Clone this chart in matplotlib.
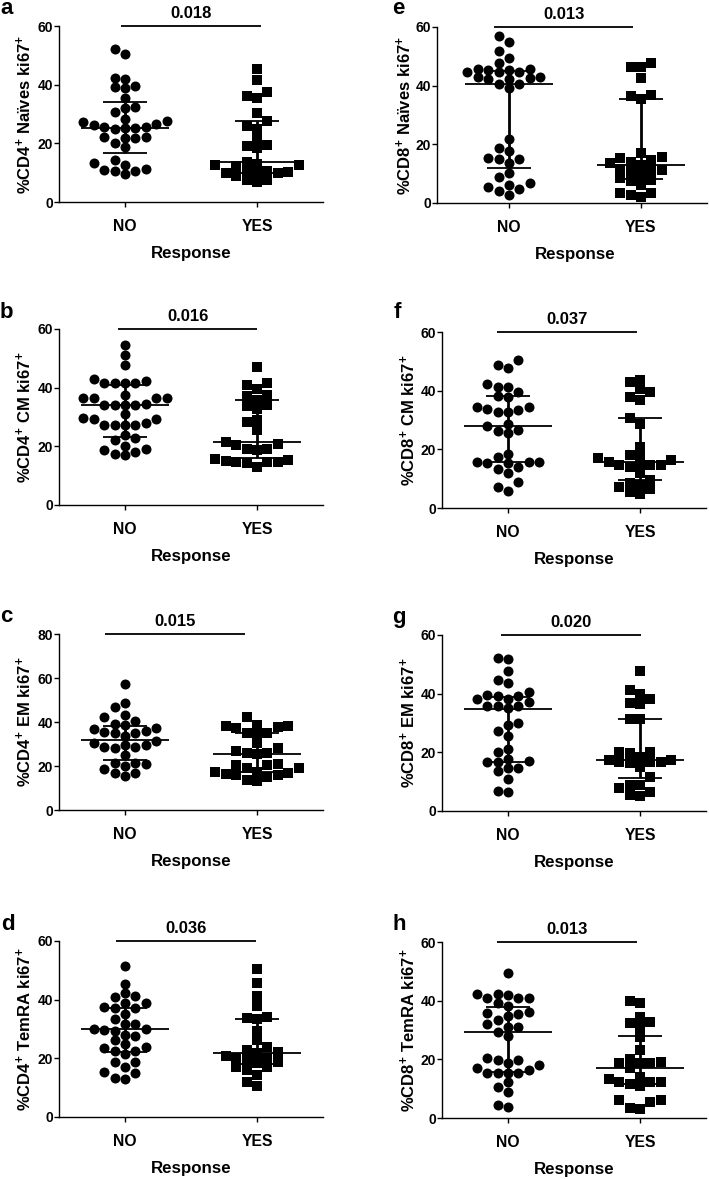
import numpy as np
import matplotlib
matplotlib.use('Agg')
import matplotlib.pyplot as plt

plt.rcParams['font.family'] = ['Liberation Sans', 'DejaVu Sans']
plt.rcParams['font.weight'] = 'bold'
plt.rcParams['mathtext.fontset'] = 'custom'
plt.rcParams['mathtext.rm'] = 'Liberation Sans:bold'
plt.rcParams['mathtext.bf'] = 'Liberation Sans:bold'
plt.rcParams['mathtext.it'] = 'Liberation Sans:bold'

# ---------------- data ----------------
categories = ['NO', 'YES']
panel_letters = ['a', 'b', 'c', 'd', 'e', 'f', 'g', 'h']
ylabels = [r'%CD4$^{+}$ Naïves ki67$^{+}$', r'%CD4$^{+}$ CM ki67$^{+}$',
           r'%CD4$^{+}$ EM ki67$^{+}$', r'%CD4$^{+}$ TemRA ki67$^{+}$',
           r'%CD8$^{+}$ Naïves ki67$^{+}$', r'%CD8$^{+}$ CM ki67$^{+}$',
           r'%CD8$^{+}$ EM ki67$^{+}$', r'%CD8$^{+}$ TemRA ki67$^{+}$']
pvalues = ['0.018', '0.016', '0.015', '0.036', '0.013', '0.037', '0.020', '0.013']
ymax_vals = [60, 60, 80, 60, 60, 60, 60, 60]

a_no = [52.0, 50.3, 41.8, 42.2, 39.1, 39.7, 38.8, 35.6, 32.5, 32.2, 30.8, 28.2, 26.1, 25.1,
        24.8, 25.1, 25.7, 25.6, 26.5, 27.4, 27.6, 22.3, 21.7, 22.3, 21.9, 18.9, 20.0, 14.3,
        13.2, 12.7, 11.1, 10.5, 9.7, 10.5, 10.9]
a_yes = [45.3, 41.6, 37.4, 36.1, 35.3, 30.2, 25.9, 27.6, 24.9, 21.9, 19.4, 19.2, 18.5, 13.8,
         12.6, 12.4, 12.6, 13.0, 10.1, 10.0, 9.8, 10.7, 10.7, 9.0, 9.8, 7.5, 6.8, 7.5]
b_no = [54.4, 51.0, 47.8, 43.0, 41.6, 41.6, 41.6, 41.6, 42.2, 37.6, 36.5, 36.5, 36.5, 36.5,
        34.4, 34.2, 34.2, 34.2, 34.2, 31.1, 29.7, 29.3, 29.3, 27.4, 27.4, 27.4, 27.4, 28.0,
        22.8, 22.3, 23.8, 19.1, 18.0, 17.2, 17.5, 18.6, 20.2]
b_yes = [47.0, 41.6, 41.0, 39.7, 35.9, 37.3, 37.6, 33.9, 32.7, 34.0, 29.1, 28.2, 25.7, 21.4,
         20.6, 19.1, 18.9, 19.1, 20.9, 15.7, 14.7, 14.3, 15.5, 14.5, 14.5, 15.0, 12.8]
c_no = [57.3, 48.8, 46.7, 43.3, 42.4, 40.5, 38.6, 38.9, 36.8, 35.2, 33.6, 34.8, 35.3, 36.1,
        37.1, 31.4, 29.5, 29.5, 28.0, 28.8, 28.8, 30.3, 25.0, 20.2, 21.2, 21.2, 18.6, 20.8,
        17.0, 15.6, 17.0]
c_yes = [42.4, 38.6, 38.3, 37.1, 37.9, 38.3, 34.8, 34.8, 34.5, 30.3, 28.0, 26.1, 25.5, 26.1,
         27.0, 20.5, 18.9, 18.9, 20.5, 20.8, 17.1, 15.9, 15.2, 17.4, 16.4, 15.9, 16.7, 13.2, 13.6]
d_no = [51.6, 45.3, 42.2, 40.8, 41.3, 39.0, 37.6, 37.0, 37.0, 39.0, 33.3, 31.7, 31.7, 35.0,
        29.9, 29.4, 27.6, 26.3, 28.0, 29.7, 29.9, 24.0, 23.4, 22.6, 24.9, 21.5, 22.6, 18.9,
        17.2, 18.9, 15.1, 15.2, 13.0, 13.2]
d_yes = [50.3, 45.8, 41.3, 37.8, 33.6, 33.3, 34.0, 29.4, 26.3, 20.9, 24.0, 22.3, 21.9, 22.8,
         20.0, 19.4, 16.9, 16.0, 18.3, 16.9, 18.9, 20.2, 14.3, 10.7, 11.8]
e_no = [56.8, 54.9, 51.9, 49.6, 47.7, 45.8, 45.3, 44.7, 44.7, 44.7, 45.3, 45.6, 42.6, 42.2,
        42.8, 42.8, 42.2, 40.5, 39.2, 40.5, 21.7, 18.9, 17.8, 14.9, 15.2, 15.0, 13.5, 10.3,
        9.0, 6.1, 6.7, 5.6, 4.7, 4.1, 2.7]
e_yes = [47.7, 46.4, 46.4, 42.6, 36.4, 36.7, 35.4, 17.2, 15.2, 14.1, 13.5, 14.6, 15.8, 12.9,
         11.2, 10.7, 11.2, 11.6, 9.5, 8.4, 7.6, 7.8, 6.1, 3.5, 3.5, 1.9, 2.7]
f_no = [48.8, 47.7, 50.6, 41.1, 41.4, 42.2, 38.3, 37.8, 39.7, 34.6, 33.7, 32.6, 32.6, 33.5,
        34.6, 27.8, 26.1, 25.5, 26.6, 28.7, 18.3, 15.6, 15.8, 15.6, 17.5, 15.3, 13.3, 11.8,
        14.1, 8.7, 7.1, 5.8, 15.5]
f_yes = [43.7, 42.9, 40.6, 39.7, 37.8, 36.9, 30.6, 28.7, 20.9, 18.1, 17.9, 17.0, 16.2, 14.9,
         14.7, 14.1, 14.7, 14.7, 15.6, 11.8, 7.9, 9.6, 8.4, 6.5, 4.8, 5.4, 7.1]
g_no = [51.7, 52.0, 47.7, 44.7, 43.5, 40.7, 38.1, 37.3, 39.2, 39.2, 39.5, 35.8, 35.0, 35.8,
        35.8, 38.1, 29.3, 30.1, 25.6, 27.3, 21.0, 20.2, 17.7, 16.8, 16.8, 17.0, 13.6, 14.5,
        14.5, 10.9, 6.4, 6.9]
g_yes = [47.8, 39.9, 41.3, 36.9, 36.5, 38.2, 31.3, 31.3, 20.2, 19.7, 20.2, 18.5, 16.8, 15.1,
         17.4, 16.8, 16.3, 16.8, 17.4, 11.7, 8.9, 6.4, 5.2, 5.5, 7.7, 8.9]
h_no = [49.5, 42.2, 41.9, 40.8, 40.8, 40.8, 42.2, 39.1, 38.1, 35.3, 36.2, 35.9, 34.8, 33.4,
        32.0, 31.1, 31.1, 27.9, 29.4, 20.5, 19.9, 19.7, 18.6, 18.0, 16.3, 15.4, 15.4, 15.4,
        15.4, 16.9, 10.6, 12.3, 8.9, 3.8, 4.3]
h_yes = [39.1, 39.8, 32.8, 32.4, 34.3, 31.1, 27.7, 23.1, 19.1, 18.8, 16.9, 18.6, 18.8, 20.0,
         13.2, 12.3, 11.7, 10.9, 12.3, 12.3, 14.0, 6.0, 5.5, 3.2, 3.5, 6.0]

# median with interquartile range: [Q1, median, Q3]
a_stats_no, a_stats_yes = [16.6, 25.1, 34.1], [10.0, 13.6, 27.7]
b_stats_no, b_stats_yes = [23.2, 34.1, 41.0], [16.0, 21.4, 35.7]
c_stats_no, c_stats_yes = [22.7, 31.8, 38.2], [17.4, 25.5, 35.2]
d_stats_no, d_stats_yes = [22.3, 29.9, 37.3], [18.0, 21.7, 33.3]
e_stats_no, e_stats_yes = [12.0, 40.5, 45.0], [8.1, 12.9, 35.4]
f_stats_no, f_stats_yes = [15.6, 27.8, 38.3], [9.6, 15.7, 30.7]
g_stats_no, g_stats_yes = [16.8, 34.7, 39.0], [11.4, 17.4, 31.3]
h_stats_no, h_stats_yes = [15.7, 29.4, 37.9], [11.5, 16.9, 27.9]

no_groups = [a_no, b_no, c_no, d_no, e_no, f_no, g_no, h_no]
yes_groups = [a_yes, b_yes, c_yes, d_yes, e_yes, f_yes, g_yes, h_yes]
no_stats = [a_stats_no, b_stats_no, c_stats_no, d_stats_no, e_stats_no, f_stats_no, g_stats_no, h_stats_no]
yes_stats = [a_stats_yes, b_stats_yes, c_stats_yes, d_stats_yes, e_stats_yes, f_stats_yes, g_stats_yes, h_stats_yes]

# ---------------- layout (pixels) ----------------
W, H = 709, 1179
CAT_PX = 132.0          # pixel distance between NO and YES
AX_H = 176.0
left_px = [59, 59, 59, 59, 437, 442, 442, 442]
xlo = [-0.5, -0.5, -0.5, -0.5, -0.545, -0.5, -0.5, -0.5]
top_px = [26, 329, 634, 941, 27, 332, 635, 942]
bar_x0 = [-0.03, -0.05, -0.15, -0.07, -0.11, -0.08, -0.05, -0.08]
bar_x1 = [1.03, 1.00, 0.91, 0.99, 0.94, 0.98, 1.01, 0.98]
letter_xy = [(0, 14), (0, 318), (0, 622), (1, 930), (392, 14), (394, 318), (392, 623), (393, 930)]
ylabel_x = [24, 24, 24, 24, 404, 408, 408, 408]

fig = plt.figure(figsize=(W / 100, H / 100), dpi=100)


def fx(px):
    return px / W


def fy(py):
    return 1 - py / H


def swarm_offsets(vals, ppu, col_px=10.4, thr_px=8.6):
    vals = np.asarray(vals, float)
    order = np.argsort(vals, kind='stable')
    placed = {}
    offs = np.zeros(len(vals))
    cand = [0]
    for k in range(1, 40):
        cand += [-k, k]
    for i in order:
        y = vals[i] * ppu
        for c in cand:
            if all(abs(y - yy) >= thr_px for yy in placed.get(c, [])):
                placed.setdefault(c, []).append(y)
                offs[i] = c
                break
    return offs * col_px / CAT_PX


for i in range(8):
    width_px = (1.5 - xlo[i]) * CAT_PX
    ax = fig.add_axes([fx(left_px[i]), fy(top_px[i] + AX_H), fx(width_px), AX_H / H])
    ymax = ymax_vals[i]
    ppu = AX_H / ymax
    for j, (vals, stats, mk, ms) in enumerate([(no_groups[i], no_stats[i], 'o', 7.2),
                                               (yes_groups[i], yes_stats[i], 's', 6.8)]):
        xs = j + swarm_offsets(vals, ppu)
        ax.plot(xs, vals, ls='none', marker=mk, ms=ms, color='black', mec='black',
                mew=0, clip_on=False, zorder=2)
        q1, med, q3 = stats
        ax.plot([j - 0.33, j + 0.33], [med, med], color='black', lw=1.3, zorder=3,
                solid_capstyle='butt')
        ax.plot([j - 0.17, j + 0.17], [q1, q1], color='black', lw=1.3, zorder=3,
                solid_capstyle='butt')
        ax.plot([j - 0.17, j + 0.17], [q3, q3], color='black', lw=1.3, zorder=3,
                solid_capstyle='butt')
        ax.plot([j, j], [q1, q3], color='black', lw=2.0, zorder=3, solid_capstyle='butt')

    ax.set_xlim(xlo[i], 1.5)
    ax.set_ylim(0, ymax)
    ax.set_yticks(np.arange(0, ymax + 1, 20))
    ax.set_xticks([0, 1])
    ax.set_xticklabels(categories)
    for s in ['top', 'right']:
        ax.spines[s].set_visible(False)
    for s in ['left', 'bottom']:
        ax.spines[s].set_linewidth(1.0)
    ax.tick_params(axis='y', length=3.4, width=1.0, pad=0.8, labelsize=10)
    ax.tick_params(axis='x', length=3.4, width=1.0, pad=9, labelsize=11.3)
    for lab in ax.get_xticklabels() + ax.get_yticklabels():
        lab.set_fontweight('bold')

    # significance bar
    ax.plot([bar_x0[i], bar_x1[i]], [ymax, ymax], color='black', lw=1.3, clip_on=False,
            solid_capstyle='butt')
    bar_mid_px = left_px[i] + ((bar_x0[i] + bar_x1[i]) / 2 - xlo[i]) * CAT_PX
    fig.text(fx(bar_mid_px), fy(top_px[i] - 8), pvalues[i], ha='center', va='baseline',
             fontsize=12, fontweight='bold')

    # axis labels
    fig.text(fx(ylabel_x[i]), fy(top_px[i] + AX_H / 2), ylabels[i], rotation=90,
             ha='center', va='center', fontsize=12, fontweight='bold')
    center_px = left_px[i] + (0.5 - xlo[i]) * CAT_PX
    fig.text(fx(center_px), fy(top_px[i] + AX_H + 56), 'Response', ha='center',
             va='baseline', fontsize=12.2, fontweight='bold')

    lx, ly = letter_xy[i]
    fig.text(fx(lx), fy(ly), panel_letters[i], ha='left', va='baseline', fontsize=16,
             fontweight='bold')

fig.savefig('out.png', dpi=100)
